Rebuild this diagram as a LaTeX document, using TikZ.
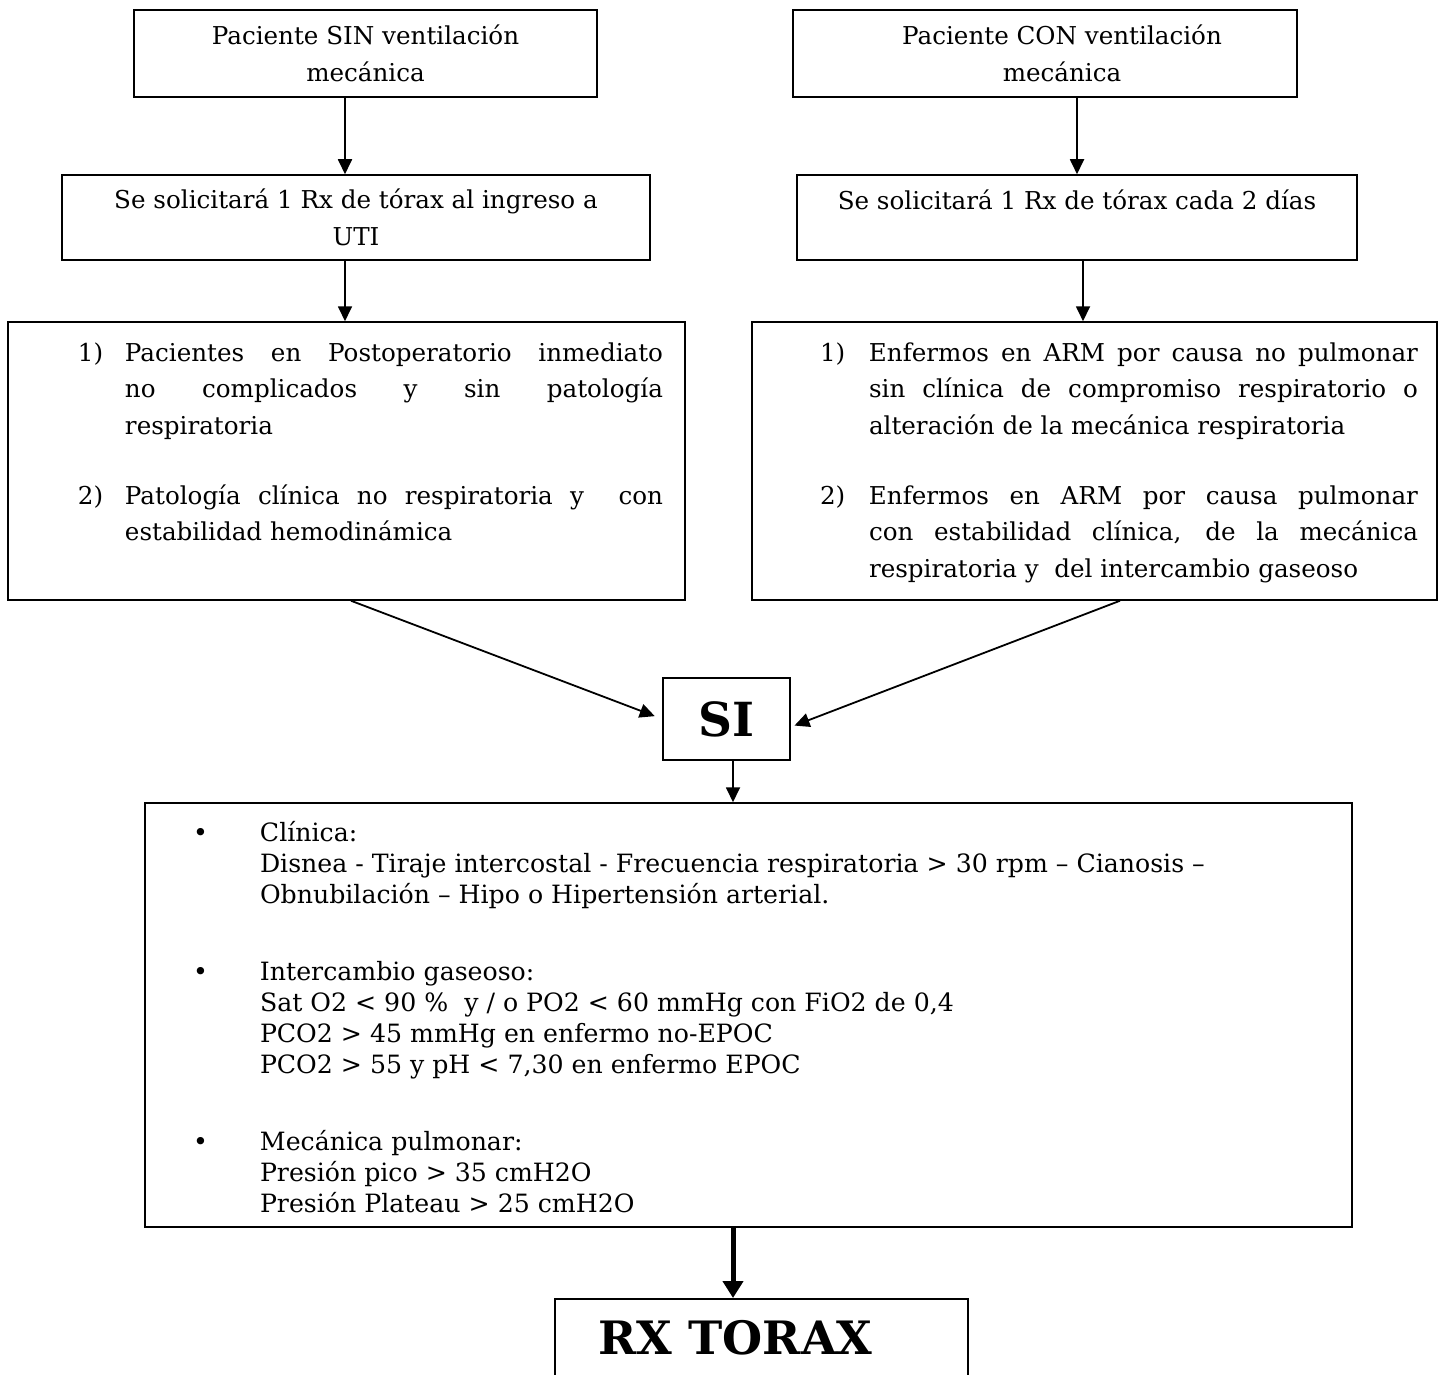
\documentclass[tikz,border=0pt]{standalone}
\usepackage{fontspec}
\setmainfont{DejaVu Serif}
\usetikzlibrary{arrows.meta}

\tikzset{
  caja/.style={draw, line width=0.75pt, inner sep=0pt},
  flecha/.style={line width=0.9pt, -{Triangle[length=7.5pt,width=7pt]}},
  flechagruesa/.style={line width=2.5pt, -{Triangle[length=8.5pt,width=10pt]}},
}
\newcommand{\txtcaja}{\fontsize{12.3}{18.5}\selectfont}
\newcommand{\txtlista}{\fontsize{12.3}{18.25}\selectfont}
\newcommand{\txtcrit}{\fontsize{12.6}{15.5}\selectfont}

\begin{document}
\begin{tikzpicture}[x=0.5pt,y=-0.5pt]
\path[use as bounding box] (0,0) rectangle (1445,1375);
\clip (0,0) rectangle (1445,1375);

% columna izquierda
\node[caja, minimum width=231.5pt, minimum height=43.5pt, align=center, font=\txtcaja] (sinvm) at (365.5,53.5) {Paciente SIN ventilación\\mecánica};
\node[caja, minimum width=294pt, minimum height=42.5pt, align=center, font=\txtcaja] (sinrx) at (356,217.5) {Se solicitará 1 Rx de tórax al ingreso a\\UTI};
\node[caja] (sinlista) at (346.5,461) {\parbox[c][139pt][t]{338.5pt}{\txtlista
\vspace*{6.9pt}
\strut\hspace*{35pt}\makebox[23.5pt][l]{1)}\makebox[269pt][s]{Pacientes en Postoperatorio inmediato}\\
\hspace*{58.5pt}\makebox[269pt][s]{no complicados y sin patología}\\
\hspace*{58.5pt}respiratoria\\[16.75pt]
\hspace*{35pt}\makebox[23.5pt][l]{2)}\makebox[269pt][s]{Patología clínica no respiratoria y\ \ con}\\
\hspace*{58.5pt}estabilidad hemodinámica}};

% columna derecha
\node[caja, minimum width=252pt, minimum height=43.5pt, align=center, font=\txtcaja] (convm) at (1045,53.5) {\hspace*{17pt}Paciente CON ventilación\\\hspace*{17pt}mecánica};
\node[caja, minimum width=280pt, minimum height=42.5pt, text height=9.5pt, text depth=17pt, font=\txtcaja] (conrx) at (1077,217.5) {Se solicitará 1 Rx de tórax cada 2 días};
\node[caja] (conlista) at (1094.5,461) {\parbox[c][139pt][t]{342.5pt}{\txtlista
\vspace*{6.9pt}
\strut\hspace*{34pt}\makebox[24.5pt][l]{1)}\makebox[274.5pt][s]{Enfermos en ARM por causa no pulmonar}\\
\hspace*{58.5pt}\makebox[274.5pt][s]{sin clínica de compromiso respiratorio o}\\
\hspace*{58.5pt}alteración de la mecánica respiratoria\\[16.75pt]
\hspace*{34pt}\makebox[24.5pt][l]{2)}\makebox[274.5pt][s]{Enfermos en ARM por causa pulmonar}\\
\hspace*{58.5pt}\makebox[274.5pt][s]{con estabilidad clínica, de la mecánica}\\
\hspace*{58.5pt}respiratoria y\ \ del intercambio gaseoso}};

% centro
\node[caja, minimum width=63.5pt, minimum height=41pt, font=\fontsize{23.5}{28}\selectfont\bfseries] (si) at (726.5,719) {SI};
\node[caja] (criterios) at (748.5,1015) {\parbox[c][212pt][t]{603.5pt}{\txtcrit
\vspace*{8.4pt}
\strut\hspace*{24pt}\makebox[33.5pt][l]{\textbullet}Clínica:\\
\hspace*{57.5pt}Disnea - Tiraje intercostal - Frecuencia respiratoria > 30 rpm – Cianosis –\\
\hspace*{57.5pt}Obnubilación – Hipo o Hipertensión arterial.\\[23pt]
\hspace*{24pt}\makebox[33.5pt][l]{\textbullet}Intercambio gaseoso:\\
\hspace*{57.5pt}Sat O2 < 90 \%\ \ y / o PO2 < 60 mmHg con FiO2 de 0,4\\
\hspace*{57.5pt}PCO2 > 45 mmHg en enfermo no-EPOC\\
\hspace*{57.5pt}PCO2 > 55 y pH < 7,30 en enfermo EPOC\\[23pt]
\hspace*{24pt}\makebox[33.5pt][l]{\textbullet}Mecánica pulmonar:\\
\hspace*{57.5pt}Presión pico > 35 cmH2O\\
\hspace*{57.5pt}Presión Plateau > 25 cmH2O}};
\node[caja, anchor=north] (rx) at (761.5,1298) {\parbox[c][61pt][t]{206.5pt}{\vspace*{10.6pt}\centering\fontsize{23}{28}\selectfont\bfseries RX TORAX\hspace*{26pt}}};

% flechas
\draw[flecha] ([xshift=-10.25pt]sinvm.south) -- ([xshift=-10.25pt]sinvm.south |- sinrx.north);
\draw[flecha] ([xshift=-0.75pt]sinlista.north |- sinrx.south) -- ([xshift=-0.75pt]sinlista.north);
\draw[flecha] (conrx.north |- convm.south) -- (conrx.north);
\draw[flecha] ([xshift=3pt]conrx.south) -- ([xshift=3pt]conrx.south |- conlista.north);
\draw[flecha, shorten >=4pt] ([xshift=2.25pt]sinlista.south) -- (si.west);
\draw[flecha, shorten >=2pt] ([xshift=12.75pt]conlista.south) -- ([yshift=-4pt]si.east);
\draw[flecha] ([xshift=3.25pt]si.south) -- ([xshift=3.25pt]si.south |- criterios.north);
\draw[flechagruesa] ([xshift=3.25pt]si.south |- criterios.south) -- ([xshift=3.25pt]si.south |- rx.north);
\end{tikzpicture}
\end{document}
